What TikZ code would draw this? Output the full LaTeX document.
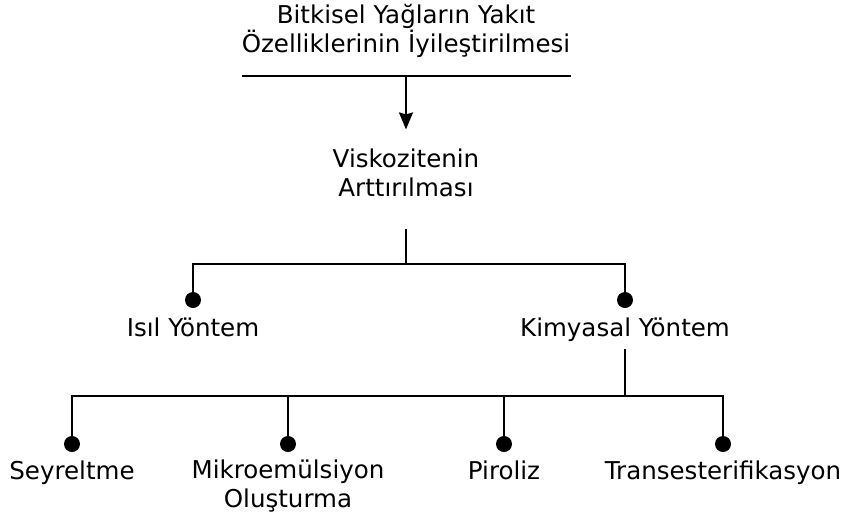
\documentclass[tikz,border=0pt]{standalone}
\usepackage{fontspec}
\setmainfont{DejaVu Sans}
\usetikzlibrary{arrows.meta}
\begin{document}
\begin{tikzpicture}[
						x=0.75pt, y=-0.75pt,
						every node/.style={font=\fontsize{18.4pt}{21.75pt}\selectfont, align=center, inner sep=0pt, anchor=base},
						branch/.style={line width=1.6pt},
						dot/.style={circle, fill=black, minimum size=12pt, inner sep=0pt, anchor=center},
						arrowline/.style={branch, -{Stealth[length=12.75pt, width=10.5pt, inset=1.5pt]}}
					]
					\useasboundingbox (0,0) rectangle (844,515);
					\node (title) at (406,52) {Bitkisel Yağların Yakıt\\Özelliklerinin İyileştirilmesi};
					\node (visk) at (406,196) {Viskozitenin\\Arttırılması};
					\node (isil) at (193,336) {Isıl Yöntem};
					\node (kimya) at (625,336) {Kimyasal Yöntem};
					\node (seyr) at (72,479) {Seyreltme};
					\node (mikro) at (288,507) {Mikroemülsiyon\\Oluşturma};
					\node (piro) at (504,479) {Piroliz};
					\node (trans) at (723,479) {Transesterifikasyon};
					\coordinate (tbar) at (406,76);
					\coordinate (vbar) at (406,264);
					\coordinate (kbar) at (625,396);
					\node[dot] (isildot) at (193,300) {};
					\node[dot] (kimyadot) at (625,300) {};
					\node[dot] (seyrdot) at (72,444) {};
					\node[dot] (mikrodot) at (288,444) {};
					\node[dot] (pirodot) at (504,444) {};
					\node[dot] (transdot) at (723,444) {};
					\draw[branch] (title.west |- tbar) -- (title.east |- tbar);
					\draw[arrowline, shorten >=14pt] (tbar) -- (visk.north);
					\draw[branch, shorten <=24pt] (visk.south) -- (vbar);
					\draw[branch] (isildot) |- (vbar) -| (kimyadot);
					\draw[branch, shorten <=6pt] (kimya.south) -- (kbar);
					\draw[branch] (seyrdot) |- (kbar) -| (transdot);
					\draw[branch] (mikrodot) -- (mikrodot |- kbar);
					\draw[branch] (pirodot) -- (pirodot |- kbar);
				\end{tikzpicture}
\end{document}
